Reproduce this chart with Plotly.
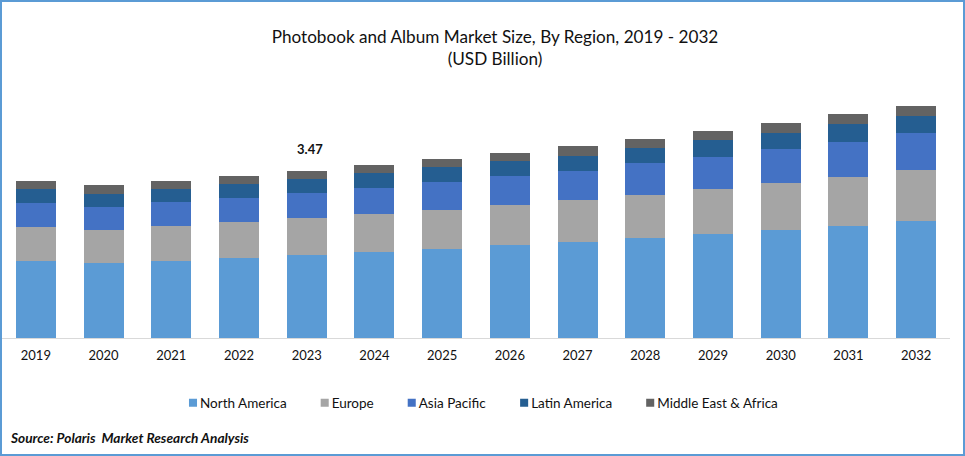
import plotly.graph_objects as go

years = ["2019","2020","2021","2022","2023","2024","2025","2026","2027","2028","2029","2030","2031","2032"]
north_america = [1.60,1.56,1.60,1.66,1.72,1.79,1.85,1.93,1.99,2.08,2.16,2.24,2.33,2.43]
europe = [0.71,0.69,0.73,0.75,0.77,0.79,0.81,0.83,0.87,0.89,0.94,0.98,1.02,1.06]
asia_pacific = [0.50,0.48,0.50,0.50,0.52,0.54,0.58,0.60,0.62,0.66,0.66,0.71,0.73,0.77]
latin_america = [0.29,0.27,0.27,0.29,0.29,0.31,0.31,0.31,0.31,0.31,0.35,0.33,0.37,0.35]
middle_east = [0.17,0.17,0.17,0.17,0.17,0.17,0.17,0.17,0.19,0.19,0.19,0.21,0.21,0.21]
label_year = "2023"
label_text = "3.47"
label_total = 3.47

W, H = 965, 456
L, R, T, B = 2, 15, 90, 118
PLOT_W, PLOT_H = W - L - R, H - T - B
PX_PER_UNIT = 48.13
FONT = "Lato"

series = [
    ("North America", north_america, "#5B9BD5"),
    ("Europe", europe, "#A5A5A5"),
    ("Asia Pacific", asia_pacific, "#4472C4"),
    ("Latin America", latin_america, "#255E91"),
    ("Middle East & Africa", middle_east, "#636363"),
]

fig = go.Figure()
for name, vals, col in series:
    fig.add_bar(x=years, y=vals, name=name, marker=dict(color=col, line=dict(width=0)))

def px(x): return (x - L) / PLOT_W
def py(y): return (H - B - y) / PLOT_H

fig.update_layout(
    width=W, height=H, barmode="stack", bargap=0.41,
    margin=dict(l=L, r=R, t=T, b=B, pad=0),
    paper_bgcolor="white", plot_bgcolor="white",
    font=dict(family=FONT, color="#111111", size=13),
    title=dict(text="Photobook and Album Market Size, By Region, 2019 - 2032<br>(USD Billion)",
               x=495 / W, xanchor="center", y=1 - 43 / H, yanchor="top",
               font=dict(size=17.15, family=FONT, color="#111111")),
    xaxis=dict(type="category", range=[-0.5, 13.5], showgrid=False, zeroline=False,
               showline=True, linecolor="#D9D9D9", linewidth=1, ticks="",
               ticklabelstandoff=5, tickfont=dict(size=13, family=FONT, color="#111111")),
    yaxis=dict(range=[0, PLOT_H / PX_PER_UNIT], visible=False, fixedrange=True),
    legend=dict(orientation="h", x=px(160), xanchor="left", y=py(403), yanchor="middle",
                itemwidth=30, font=dict(size=13.5, family=FONT, color="#111111"),
                traceorder="normal", bgcolor="rgba(0,0,0,0)"),
    annotations=[
        dict(x=years.index(label_year), y=label_total, xref="x", yref="y", text=f"<b>{label_text}</b>",
             showarrow=False, yanchor="middle", yshift=22, xshift=3,
             font=dict(size=13, family=FONT, color="#111111")),
        dict(x=px(8), y=py(437), xref="paper", yref="paper", xanchor="left", yanchor="middle",
             text="<b><i>Source: Polaris  Market Research Analysis</i></b>", showarrow=False,
             font=dict(size=13.7, family=FONT, color="#111111")),
    ],
    shapes=[dict(type="rect", xref="paper", yref="paper", x0=px(1), x1=px(964), y0=py(1), y1=py(455),
                 line=dict(color="#5B9BD5", width=2), fillcolor="rgba(0,0,0,0)", layer="above")],
)
post = """
document.body.style.margin='0';
document.querySelectorAll('.legendpoints path').forEach(function(p){
  var t = p.getAttribute('transform') || '';
  p.setAttribute('transform', 'translate(13,0) ' + t + ' scale(0.67)');
});
"""
fig.write_html("out.html", config={"displayModeBar": False}, post_script=post)
